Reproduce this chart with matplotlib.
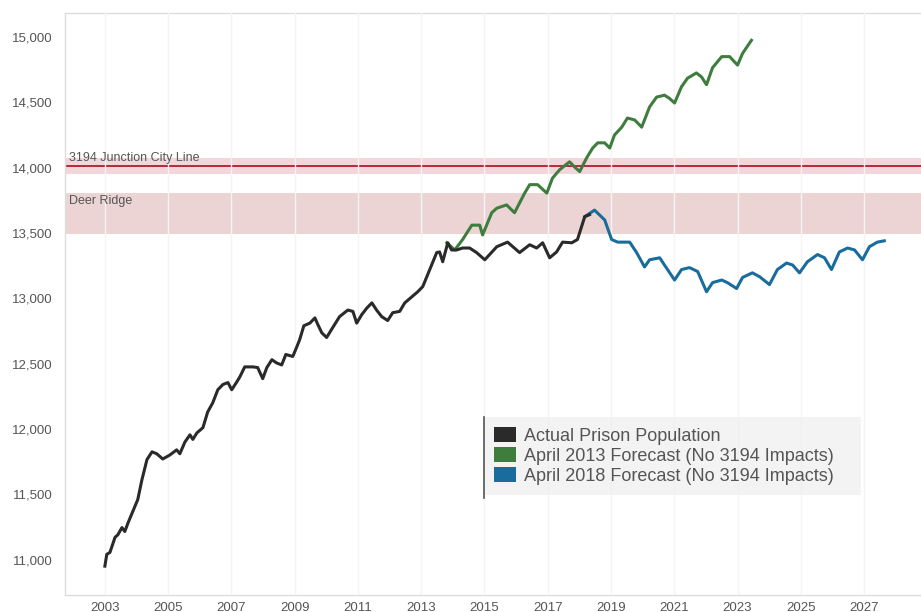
import matplotlib.pyplot as plt
from matplotlib.patches import Patch
from matplotlib.lines import Line2D
from matplotlib.ticker import FuncFormatter

plt.rcParams['font.family'] = ['Liberation Sans', 'DejaVu Sans']

# Actual prison population (decimal year, inmates)
actual_year = [2003.00, 2003.06, 2003.16, 2003.32, 2003.41, 2003.54, 2003.63, 2003.73, 2004.04, 2004.17,
               2004.33, 2004.49, 2004.64, 2004.83, 2005.05, 2005.27, 2005.37, 2005.53, 2005.69, 2005.78,
               2005.91, 2006.10, 2006.25, 2006.41, 2006.57, 2006.73, 2006.89, 2007.01, 2007.17, 2007.27,
               2007.42, 2007.68, 2007.83, 2007.99, 2008.12, 2008.28, 2008.43, 2008.59, 2008.72, 2008.94,
               2009.07, 2009.16, 2009.29, 2009.48, 2009.64, 2009.73, 2009.86, 2010.01, 2010.20, 2010.42,
               2010.68, 2010.84, 2010.96, 2011.12, 2011.28, 2011.44, 2011.59, 2011.75, 2011.94, 2012.10,
               2012.32, 2012.48, 2012.89, 2013.05, 2013.27, 2013.49, 2013.58, 2013.68, 2013.84, 2013.96,
               2014.12, 2014.31, 2014.53, 2014.75, 2015.01, 2015.39, 2015.73, 2016.11, 2016.43, 2016.65,
               2016.84, 2017.06, 2017.28, 2017.47, 2017.76, 2017.94, 2018.17, 2018.32]
actual_pop = [10950, 11040, 11055, 11170, 11190, 11245, 11215, 11280, 11460, 11610,
              11765, 11825, 11810, 11770, 11800, 11840, 11810, 11900, 11955, 11920,
              11970, 12010, 12130, 12200, 12300, 12340, 12355, 12300, 12360, 12400,
              12475, 12475, 12470, 12385, 12470, 12530, 12505, 12490, 12570, 12555,
              12630, 12685, 12790, 12810, 12850, 12800, 12735, 12700, 12775, 12860,
              12910, 12900, 12810, 12875, 12925, 12965, 12910, 12860, 12830, 12890,
              12900, 12965, 13050, 13090, 13220, 13350, 13355, 13280, 13425, 13370,
              13370, 13385, 13385, 13350, 13295, 13395, 13430, 13350, 13410, 13385,
              13425, 13310, 13355, 13430, 13425, 13450, 13625, 13640]

# April 2013 forecast
f2013_year = [2013.81, 2014.06, 2014.31, 2014.60, 2014.85, 2014.94, 2015.23, 2015.39, 2015.70, 2015.95,
              2016.27, 2016.43, 2016.68, 2016.97, 2017.15, 2017.38, 2017.69, 2017.85, 2018.01, 2018.23,
              2018.42, 2018.58, 2018.80, 2018.96, 2019.11, 2019.34, 2019.52, 2019.75, 2019.97, 2020.22,
              2020.44, 2020.69, 2020.85, 2021.01, 2021.23, 2021.42, 2021.70, 2021.86, 2022.02, 2022.21,
              2022.50, 2022.75, 2023.00, 2023.16, 2023.44]
f2013_pop = [13425, 13370, 13450, 13560, 13560, 13485, 13655, 13690, 13715, 13655,
             13805, 13870, 13870, 13805, 13920, 13985, 14045, 14005, 13970, 14075,
             14150, 14190, 14190, 14150, 14250, 14310, 14380, 14365, 14310, 14465,
             14540, 14555, 14530, 14495, 14620, 14685, 14725, 14695, 14635, 14765,
             14850, 14850, 14785, 14875, 14975]

# April 2018 forecast
f2018_year = [2018.17, 2018.48, 2018.80, 2019.02, 2019.21, 2019.59, 2019.81, 2020.06, 2020.22, 2020.54,
              2020.69, 2021.01, 2021.23, 2021.48, 2021.74, 2022.02, 2022.21, 2022.50, 2022.68, 2022.97,
              2023.16, 2023.47, 2023.70, 2024.01, 2024.26, 2024.55, 2024.74, 2024.96, 2025.21, 2025.53,
              2025.75, 2025.97, 2026.22, 2026.48, 2026.70, 2026.95, 2027.17, 2027.42, 2027.64]
f2018_pop = [13625, 13675, 13600, 13450, 13430, 13430, 13350, 13240, 13295, 13310,
             13255, 13140, 13220, 13235, 13205, 13050, 13120, 13140, 13120, 13075,
             13160, 13195, 13165, 13105, 13220, 13270, 13255, 13195, 13280, 13335,
             13310, 13220, 13355, 13385, 13370, 13295, 13395, 13430, 13440]

junction_line = 14010
junction_band = (13950, 14075)
deer_ridge_band = (13490, 13805)

year_ticks = list(range(2003, 2028, 2))
pop_ticks = list(range(11000, 15001, 500))

fig = plt.figure(figsize=(9.21, 6.12), dpi=100)
ax = fig.add_axes([0.0706, 0.028, 0.9294, 0.951])

ax.axhspan(*junction_band, color='#f2d6da', zorder=1, lw=0)
ax.axhline(junction_line, color='#b8283c', lw=1.4, zorder=2)
ax.axhspan(*deer_ridge_band, color='#ecd4d5', zorder=1, lw=0)

ax.text(2001.85, junction_line + 15, '3194 Junction City Line', fontsize=9, color='#555555',
        va='bottom', ha='left', zorder=3)
ax.text(2001.85, deer_ridge_band[1] - 15, 'Deer Ridge', fontsize=9, color='#555555',
        va='top', ha='left', zorder=3)

black = '#2a2a2a'
green = '#3f7d3f'
blue = '#1a6c9c'
ax.plot(f2013_year, f2013_pop, color=green, lw=2.2, zorder=4)
ax.plot(actual_year, actual_pop, color=black, lw=2.2, zorder=5)
ax.plot(f2018_year, f2018_pop, color=blue, lw=2.2, zorder=4)

ax.set_xlim(2001.74, 2028.8)
ax.set_ylim(10730, 15185)
ax.set_xticks(year_ticks)
ax.set_yticks(pop_ticks)
ax.yaxis.set_major_formatter(FuncFormatter(lambda v, p: f'{int(v):,}'))
ax.tick_params(length=0, labelsize=9.5, labelcolor='#555555')
ax.tick_params(axis='y', pad=9)
ax.tick_params(axis='x', pad=5)

ax.grid(axis='x', color='#f4f4f4', lw=1.0, zorder=3)
ax.set_axisbelow(False)
for gl in ax.get_xgridlines():
    gl.set_zorder(3)

ax.spines['right'].set_visible(False)
for side in ['left', 'bottom', 'top']:
    ax.spines[side].set_color('#dddddd')
    ax.spines[side].set_linewidth(1.0)

handles = [Patch(facecolor=black, edgecolor='none', label='Actual Prison Population'),
           Patch(facecolor=green, edgecolor='none', label='April 2013 Forecast (No 3194 Impacts)'),
           Patch(facecolor=blue, edgecolor='none', label='April 2018 Forecast (No 3194 Impacts)')]
leg = ax.legend(handles=handles, loc='upper left', mode='expand',
                bbox_to_anchor=(0.4895, 0.0, 0.44, 0.305),
                fontsize=13, frameon=True, fancybox=False, handlelength=1.2, handleheight=0.9,
                handletextpad=0.45, labelspacing=0.12, borderpad=0.55, borderaxespad=0.0,
                labelcolor='#555555')
leg.get_frame().set_facecolor('#f0f0f0')
leg.get_frame().set_edgecolor('none')
leg.set_zorder(6)
ax.add_line(Line2D([0.4895, 0.4895], [0.166, 0.305], transform=ax.transAxes,
                   color='#555555', lw=1.2, zorder=7))

fig.savefig('out.png', dpi=100)
